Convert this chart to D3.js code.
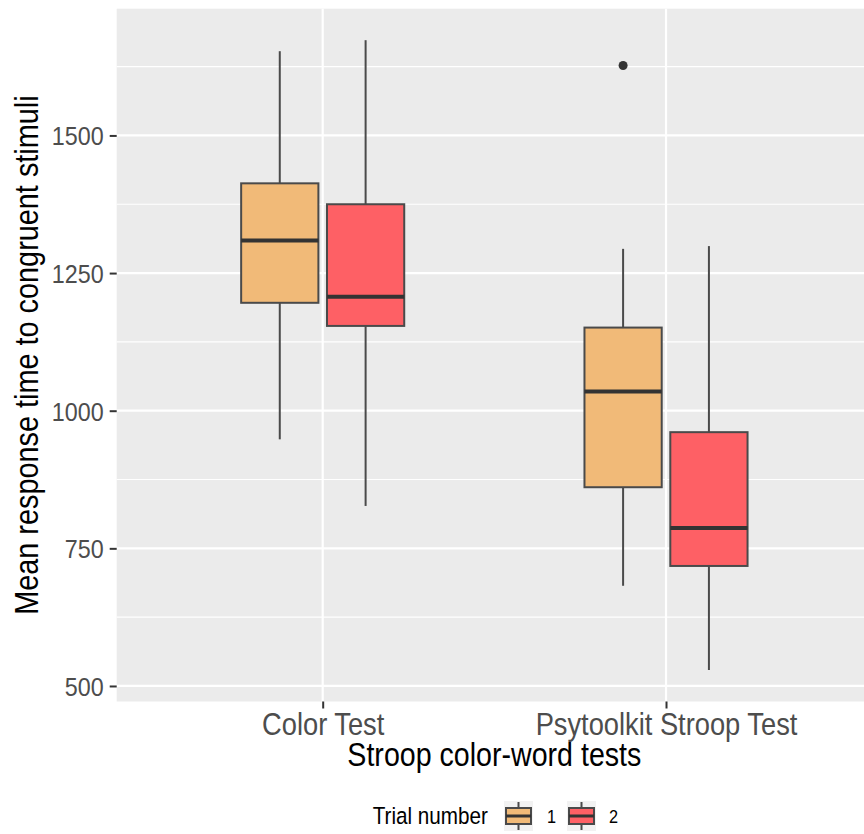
<!DOCTYPE html>
<html>
<head>
<meta charset="utf-8">
<script src="https://cdn.jsdelivr.net/npm/d3@7"></script>
<style>
  html, body { margin: 0; padding: 0; background: #ffffff; }
  svg { display: block; }
  text { font-family: "Liberation Sans", Arial, Helvetica, sans-serif; }
</style>
</head>
<body>
<svg id="chart" width="864" height="834"></svg>
<script>
// ---- data ----
const categories = ["Color Test", "Psytoolkit Stroop Test"];
const trials = ["1", "2"];
// one entry per box, in order: Color-1, Color-2, Psytoolkit-1, Psytoolkit-2
const boxCategory = ["Color Test", "Color Test", "Psytoolkit Stroop Test", "Psytoolkit Stroop Test"];
const boxTrial    = ["1", "2", "1", "2"];
const whiskerLow  = [948, 827, 682, 529];
const quartile1   = [1196, 1154, 861, 718];
const medianValue = [1309, 1207, 1035, 787];
const quartile3   = [1413, 1375, 1151, 961];
const whiskerHigh = [1653, 1673, 1294, 1299];
const outlierCategory = ["Psytoolkit Stroop Test"];
const outlierTrial    = ["1"];
const outlierValue    = [1627];
const yTicks      = [500, 750, 1000, 1250, 1500];
const yMinorTicks = [625, 875, 1125, 1375, 1625];
const trialColors = ["#F1BA78", "#FE6065"];
const xTitle = "Stroop color-word tests";
const yTitle = "Mean response time to congruent stimuli";
const legendTitle = "Trial number";

// ---- layout ----
const svg = d3.select("#chart");
const panel = { left: 116.7, right: 872, top: 8.7, bottom: 701.5 };
const cond = 0.88; // horizontal text condensation

const allVals = whiskerLow.concat(whiskerHigh, outlierValue);
const vMin = d3.min(allVals), vMax = d3.max(allVals);
const pad = (vMax - vMin) * 0.05;
const y = d3.scaleLinear().domain([vMin - pad, vMax + pad]).range([panel.bottom, panel.top]);
const xPos = d3.scaleLinear().domain([0.4, categories.length + 0.6]).range([panel.left, panel.right]);
const catX = c => xPos(categories.indexOf(c) + 1);
const unit = xPos(1) - xPos(0);
const dodge = d3.scaleBand().domain(trials).range([-0.25 * unit, 0.25 * unit]);
const boxW = dodge.bandwidth() * 0.9;
const color = d3.scaleOrdinal().domain(trials).range(trialColors);

// panel background
svg.append("rect")
  .attr("x", panel.left).attr("y", panel.top)
  .attr("width", panel.right - panel.left).attr("height", panel.bottom - panel.top)
  .attr("fill", "#EBEBEB");

// grid lines
const grid = svg.append("g");
grid.selectAll(".minor").data(yMinorTicks).join("line")
  .attr("x1", panel.left).attr("x2", panel.right)
  .attr("y1", d => y(d)).attr("y2", d => y(d))
  .attr("stroke", "#ffffff").attr("stroke-width", 1.1);
grid.selectAll(".major").data(yTicks).join("line")
  .attr("x1", panel.left).attr("x2", panel.right)
  .attr("y1", d => y(d)).attr("y2", d => y(d))
  .attr("stroke", "#ffffff").attr("stroke-width", 2.2);
grid.selectAll(".vmajor").data(categories).join("line")
  .attr("x1", d => catX(d)).attr("x2", d => catX(d))
  .attr("y1", panel.top).attr("y2", panel.bottom)
  .attr("stroke", "#ffffff").attr("stroke-width", 2.2);

// boxes
const boxes = d3.range(boxCategory.length).map(i => ({
  cx: catX(boxCategory[i]) + dodge(boxTrial[i]) + dodge.bandwidth() / 2,
  trial: boxTrial[i],
  lo: whiskerLow[i], q1: quartile1[i], med: medianValue[i], q3: quartile3[i], hi: whiskerHigh[i]
}));
const bg = svg.append("g");
const lineCol = "#4a4a4a";
bg.selectAll(".wu").data(boxes).join("line")
  .attr("x1", d => d.cx).attr("x2", d => d.cx)
  .attr("y1", d => y(d.hi)).attr("y2", d => y(d.q3))
  .attr("stroke", lineCol).attr("stroke-width", 2);
bg.selectAll(".wl").data(boxes).join("line")
  .attr("x1", d => d.cx).attr("x2", d => d.cx)
  .attr("y1", d => y(d.q1)).attr("y2", d => y(d.lo))
  .attr("stroke", lineCol).attr("stroke-width", 2);
bg.selectAll(".box").data(boxes).join("rect")
  .attr("x", d => d.cx - boxW / 2).attr("width", boxW)
  .attr("y", d => y(d.q3)).attr("height", d => y(d.q1) - y(d.q3))
  .attr("fill", d => color(d.trial))
  .attr("stroke", lineCol).attr("stroke-width", 2);
bg.selectAll(".med").data(boxes).join("line")
  .attr("x1", d => d.cx - boxW / 2).attr("x2", d => d.cx + boxW / 2)
  .attr("y1", d => y(d.med)).attr("y2", d => y(d.med))
  .attr("stroke", "#333333").attr("stroke-width", 4);

// outliers
svg.append("g").selectAll("circle").data(d3.range(outlierValue.length)).join("circle")
  .attr("cx", i => catX(outlierCategory[i]) + dodge(outlierTrial[i]) + dodge.bandwidth() / 2)
  .attr("cy", i => y(outlierValue[i]))
  .attr("r", 4.5).attr("fill", "#333333");

// y axis
const yAxis = svg.append("g").attr("transform", `translate(${panel.left},0)`)
  .call(d3.axisLeft(y).tickValues(yTicks).tickSize(7).tickPadding(5).tickFormat(d3.format("d")));
yAxis.select(".domain").remove();
yAxis.selectAll(".tick line").attr("stroke", "#333333").attr("stroke-width", 2);
yAxis.selectAll(".tick text").attr("fill", "#4D4D4D").attr("font-size", 26.5)
  .attr("x", -13 / cond).attr("transform", `scale(${cond},1)`)
  .attr("dy", "0.36em");

// x axis
const xAxis = svg.append("g").attr("transform", `translate(0,${panel.bottom})`)
  .call(d3.axisBottom(d3.scaleOrdinal().domain(categories).range(categories.map(c => catX(c))))
    .tickSize(7).tickPadding(4));
xAxis.select(".domain").remove();
xAxis.selectAll(".tick line").attr("stroke", "#333333").attr("stroke-width", 2);
xAxis.selectAll(".tick text").attr("fill", "#4D4D4D").attr("font-size", 31)
  .attr("transform", `scale(${cond},1)`)
  .attr("dy", "0.72em");

// titles
svg.append("text")
  .attr("transform", `translate(${(panel.left + panel.right) / 2},766) scale(${cond},1)`)
  .attr("text-anchor", "middle").attr("font-size", 32.5).attr("fill", "#000")
  .text(xTitle);
svg.append("text")
  .attr("transform", `translate(38,${(panel.top + panel.bottom) / 2}) rotate(-90) scale(${cond},1)`)
  .attr("text-anchor", "middle").attr("font-size", 32.8).attr("fill", "#000")
  .text(yTitle);

// legend
const lg = svg.append("g");
const legendCenterY = 816;
lg.append("text").attr("transform", `translate(372.7,${legendCenterY}) scale(${cond},1)`).attr("dy", "0.36em")
  .attr("font-size", 23.5).attr("fill", "#000").text(legendTitle);
const keyX = [504, 567];
const labelX = [547, 609];
trials.forEach((t, i) => {
  const kx = keyX[i], kw = 29, ky = legendCenterY - 15, kh = 30;
  lg.append("rect").attr("x", kx).attr("y", ky).attr("width", kw).attr("height", kh).attr("fill", "#F2F2F2");
  const cx = kx + kw / 2;
  lg.append("line").attr("x1", cx).attr("x2", cx).attr("y1", ky + 1).attr("y2", ky + kh - 1)
    .attr("stroke", lineCol).attr("stroke-width", 2);
  lg.append("rect").attr("x", kx + 2).attr("y", ky + 7).attr("width", kw - 4).attr("height", kh - 14)
    .attr("fill", color(t)).attr("stroke", lineCol).attr("stroke-width", 2);
  lg.append("line").attr("x1", kx + 2).attr("x2", kx + kw - 2).attr("y1", ky + kh / 2).attr("y2", ky + kh / 2)
    .attr("stroke", "#333333").attr("stroke-width", 3);
  lg.append("text").attr("transform", `translate(${labelX[i]},${legendCenterY}) scale(${cond},1)`).attr("dy", "0.36em")
    .attr("font-size", 18.5).attr("fill", "#000").text(t);
});
</script>
</body>
</html>
